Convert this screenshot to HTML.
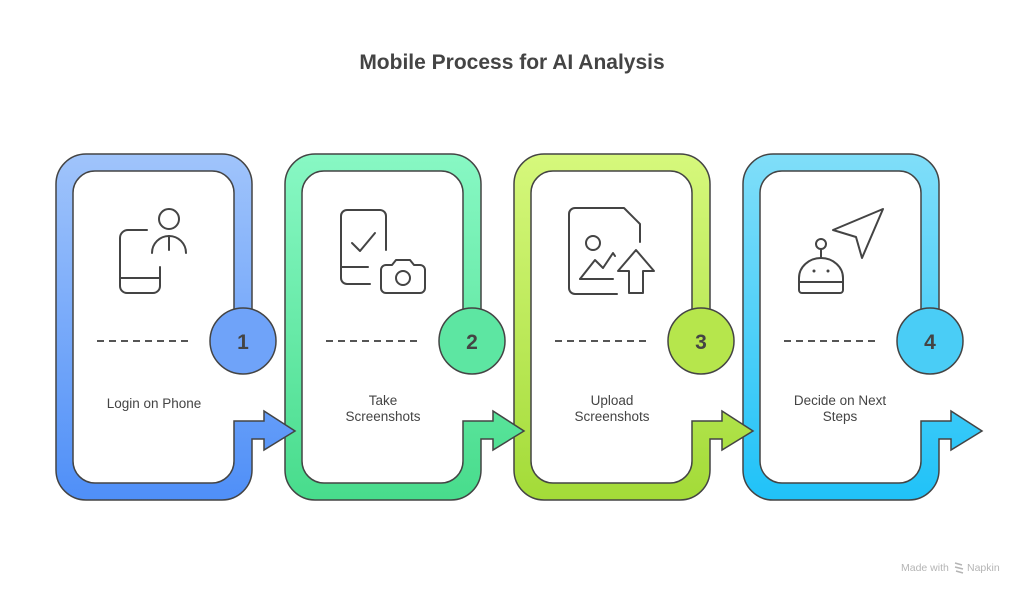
<!DOCTYPE html>
<html><head><meta charset="utf-8"><style>
html,body{margin:0;padding:0;background:#fff}
svg{display:block}
text{font-family:"Liberation Sans",sans-serif}
</style></head><body>
<svg width="1024" height="593" viewBox="0 0 1024 593" xmlns="http://www.w3.org/2000/svg">
<defs>
<linearGradient id="g1" x1="0" y1="0" x2="0" y2="1"><stop offset="0" stop-color="#a0c4fb"/><stop offset="1" stop-color="#4f8ff8"/></linearGradient>
<linearGradient id="g2" x1="0" y1="0" x2="0" y2="1"><stop offset="0" stop-color="#88f8c4"/><stop offset="1" stop-color="#48dc8c"/></linearGradient>
<linearGradient id="g3" x1="0" y1="0" x2="0" y2="1"><stop offset="0" stop-color="#d6f87c"/><stop offset="1" stop-color="#a3db38"/></linearGradient>
<linearGradient id="g4" x1="0" y1="0" x2="0" y2="1"><stop offset="0" stop-color="#80def9"/><stop offset="1" stop-color="#20c2f8"/></linearGradient>
<path id="band" d="M86 154 H222 A30 30 0 0 1 252 184 V320 H234 V193 A22 22 0 0 0 212 171 H95 A22 22 0 0 0 73 193 V461 A22 22 0 0 0 95 483 H212 A22 22 0 0 0 234 461 V421 H264 V411 L295 431 L264 450 V439 H252 V470 A30 30 0 0 1 222 500 H86 A30 30 0 0 1 56 470 V184 A30 30 0 0 1 86 154 Z"/>
</defs>
<text x="512" y="69" text-anchor="middle" font-size="21" font-weight="bold" fill="#444">Mobile Process for AI Analysis</text>

<g stroke="#444" stroke-width="1.5">
<use href="#band" fill="url(#g4)" x="687"/>
<use href="#band" fill="url(#g3)" x="458"/>
<use href="#band" fill="url(#g2)" x="229"/>
<use href="#band" fill="url(#g1)"/>
<circle cx="243" cy="341" r="33" fill="#6fa3f9"/>
<circle cx="472" cy="341" r="33" fill="#5de6a2"/>
<circle cx="701" cy="341" r="33" fill="#b6e64c"/>
<circle cx="930" cy="341" r="33" fill="#4acdf6"/>
</g>
<g font-size="21" font-weight="bold" fill="#444" text-anchor="middle">
<text x="243" y="349">1</text><text x="472" y="349">2</text><text x="701" y="349">3</text><text x="930" y="349">4</text>
</g>
<g stroke="#555" stroke-width="2" stroke-dasharray="7 5">
<line x1="97" y1="341" x2="190" y2="341"/><line x1="326" y1="341" x2="419" y2="341"/>
<line x1="555" y1="341" x2="648" y2="341"/><line x1="784" y1="341" x2="877" y2="341"/>
</g>
<g font-size="13.5" fill="#444" text-anchor="middle">
<text x="154" y="408">Login on Phone</text>
<text x="383" y="405">Take</text><text x="383" y="421">Screenshots</text>
<text x="612" y="405">Upload</text><text x="612" y="421">Screenshots</text>
<text x="840" y="405">Decide on Next</text><text x="840" y="421">Steps</text>
</g>
<g fill="none" stroke="#444" stroke-width="2" stroke-linecap="round" stroke-linejoin="round">
<path d="M147 230 H128 A8 8 0 0 0 120 238 V286 A7 7 0 0 0 127 293 H153 A7 7 0 0 0 160 286 V267"/>
<line x1="120" y1="278" x2="160" y2="278"/>
<circle cx="169" cy="219" r="10"/>
<path d="M152 253 A17 17 0 0 1 186 253"/><line x1="169" y1="236" x2="169" y2="250"/>
<path d="M370 284 H347 A6 6 0 0 1 341 278 V216 A6 6 0 0 1 347 210 H380 A6 6 0 0 1 386 216 V250"/>
<line x1="341" y1="267" x2="368" y2="267"/>
<path d="M352 243 L360 251 L375 233"/>
<path d="M386 265 H392 L396 260 H410 L414 265 H420 A5 5 0 0 1 425 270 V288 A5 5 0 0 1 420 293 H386 A5 5 0 0 1 381 288 V270 A5 5 0 0 1 386 265 Z"/>
<circle cx="403" cy="278" r="7"/>
<path d="M617 294 H575 A6 6 0 0 1 569 288 V214 A6 6 0 0 1 575 208 H624 L640 224 V242"/>
<circle cx="593" cy="243" r="7"/>
<path d="M580 279 L595 260 L603 268 L613 253 L615 256"/>
<line x1="580" y1="279" x2="613" y2="279"/>
<path d="M629 293 V271 H618 L636 250 L654 271 H643 V293 Z"/>
<circle cx="821" cy="244" r="5"/><line x1="821" y1="249" x2="821" y2="258"/>
<path d="M799 290 V278 A22 20 0 0 1 843 278 V290 A3 3 0 0 1 840 293 H802 A3 3 0 0 1 799 290 Z"/>
<line x1="799" y1="282" x2="843" y2="282"/>
<path d="M833 230 L883 209 L862 258 L856 237 Z"/>
</g>
<circle cx="814" cy="271" r="1.5" fill="#444"/><circle cx="828" cy="271" r="1.5" fill="#444"/>
<text x="901" y="571" font-size="10.5" fill="#b5b5b5">Made with</text>
<path d="M955 563 L962 565 M955 567 L963 569 M956 571 L963 573" stroke="#b5b5b5" stroke-width="1.5"/>
<text x="967" y="571" font-size="10.5" fill="#b5b5b5">Napkin</text>
</svg>
</body></html>
